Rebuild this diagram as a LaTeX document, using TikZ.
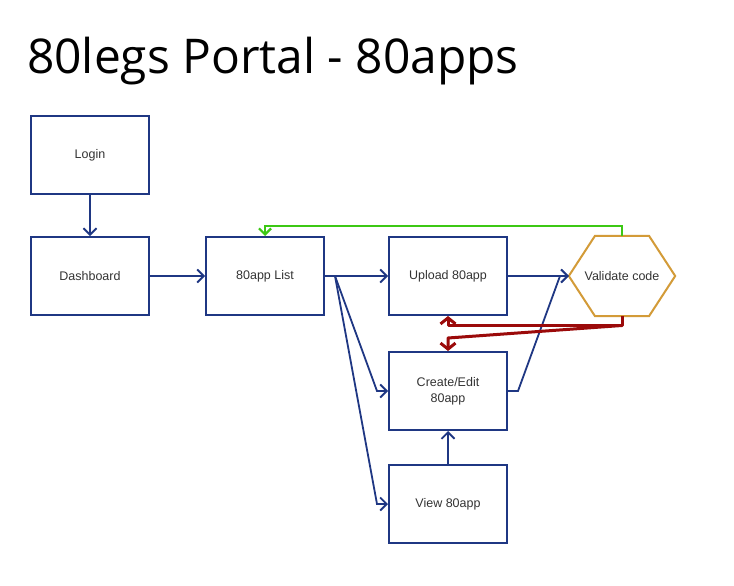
\documentclass[tikz,border=0pt]{standalone}
\usepackage{fontspec}
\setmainfont{Liberation Sans}
\newfontfamily\titlefont{Open Sans}
\usetikzlibrary{arrows.meta,calc}
\definecolor{boxblue}{HTML}{1F3783}
\definecolor{hexorange}{HTML}{D39B38}
\definecolor{okgreen}{HTML}{3CC814}
\definecolor{errred}{HTML}{9B0A0A}
\definecolor{txt}{HTML}{333333}
\tikzset{
  x=1pt, y=-1pt,
  stepbox/.style={draw=boxblue, line width=2pt, minimum width=118pt, minimum height=78pt,
    inner sep=0pt, align=center, text=txt, font=\fontsize{12.5}{16}\selectfont},
  flow/.style={draw=boxblue, line width=1.8pt, -{Straight Barb[length=6.5pt,width=13pt,line width=1.8pt]}},
  okflow/.style={draw=okgreen, line width=2.2pt, -{Straight Barb[length=6pt,width=12pt,line width=2.2pt]}},
  errflow/.style={draw=errred, line width=3pt, -{Straight Barb[length=6pt,width=15pt,line width=3pt]}},
}
\begin{document}
\begin{tikzpicture}
\useasboundingbox[fill=white] (0,0) rectangle (734,586);
\node[anchor=base west, font=\titlefont\fontsize{47.9}{52}\selectfont, inner sep=0pt] (title) at (27,74) {80legs Portal - 80apps};

\node[stepbox] (login) at (90,155) {Login};
\node[stepbox] (dash) at (90,276) {Dashboard};
\node[stepbox] (list) at (265,276) {80app List};
\node[stepbox] (upload) at (448,276) {Upload 80app};
\node[stepbox] (create) at (448,391) {Create/Edit\\80app};
\node[stepbox] (view) at (448,504) {View 80app};
\node[minimum width=106pt, minimum height=80pt, inner sep=0pt, text=txt,
  font=\fontsize{12.5}{16}\selectfont] (val) at (622,276) {Validate code};
\draw[hexorange, line width=2pt] (val.west) -- (val.north west -| 595,0) -- (val.north east -| 649,0)
  -- (val.east) -- (val.south east -| 649,0) -- (val.south west -| 595,0) -- cycle;

\coordinate (fork) at (335,276);
\coordinate (ckink) at (518,391);
\coordinate (vin) at (560,276);
\coordinate (gtop) at (622,226);
\coordinate (rcorner) at (622,325.5);
\coordinate (rslant) at (448,338);

\draw[flow] (login) -- (dash);
\draw[flow] (dash) -- (list);
\draw[flow] (list) -- (upload);
\draw[flow] (fork) -- (377,391) -- (create.west);
\draw[flow] (fork) -- (377,504) -- (view.west);
\draw[flow] (upload) -- (val.west);
\draw[flow] (create.east) -- (ckink) -- (vin) -- (val.west);
\draw[flow] (view) -- (create);
\draw[okflow] (val.north) -- (gtop) -- (gtop -| list.north) -- (list.north);
\draw[errflow, line join=round] (val.south) -- (rcorner) -- (rcorner -| upload.south) -- (upload.south);
\draw[errflow, line join=round] (rcorner) -- (rslant) -- (create.north);
\end{tikzpicture}
\end{document}
